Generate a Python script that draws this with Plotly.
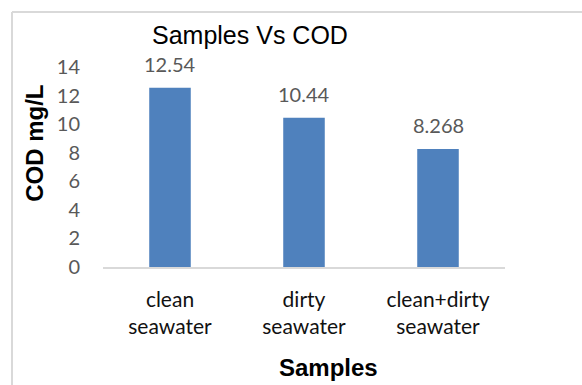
import plotly.graph_objects as go

# Chart data
categories = ["clean seawater", "dirty seawater", "clean+dirty seawater"]
cod_values = [12.54, 10.44, 8.268]
value_labels = ["12.54", "10.44", "8.268"]
y_ticks = [0, 2, 4, 6, 8, 10, 12, 14]

tick_text = [c.replace(" ", "<br>") for c in categories]
body_font = "Lato, Open Sans, sans-serif"
head_font = "Liberation Sans, Arial, sans-serif"

fig = go.Figure(
    go.Bar(
        x=categories,
        y=cod_values,
        marker=dict(color="#4F81BD", line=dict(width=0)),
        width=0.31,
    )
)

# Value labels above each bar
for cat, val, lab in zip(categories, cod_values, value_labels):
    fig.add_annotation(
        x=cat, y=val, text=lab, showarrow=False,
        xanchor="center", yanchor="bottom", yshift=10,
        font=dict(family=body_font, size=20, color="#595959"),
    )

# Outer frame of the chart area (left and top edges)
frame = dict(type="line", xref="paper", yref="paper",
             line=dict(color="#d9d9d9", width=2), layer="below")
fig.add_shape(x0=-0.2264, x1=-0.2264, y0=1.275, y1=-0.7, **frame)
fig.add_shape(x0=-0.2264, x1=1.3, y0=1.275, y1=1.275, **frame)

fig.add_annotation(text="Samples Vs COD", xref="paper", yref="paper",
                   x=0.366, y=1.16, xanchor="center", yanchor="middle",
                   showarrow=False,
                   font=dict(family=head_font, size=25, color="#000000"))
fig.add_annotation(text="<b>COD mg/L</b>", xref="paper", yref="paper",
                   x=-0.172, y=0.62, xanchor="center", yanchor="middle",
                   textangle=-90, showarrow=False,
                   font=dict(family=head_font, size=24, color="#000000"))
fig.add_annotation(text="<b>Samples</b>", xref="paper", yref="paper",
                   x=0.56, y=-0.5, xanchor="center", yanchor="middle",
                   showarrow=False,
                   font=dict(family=head_font, size=24, color="#000000"))

fig.update_layout(
    width=582,
    height=385,
    margin=dict(l=103, r=77, t=67, b=118),
    paper_bgcolor="white",
    plot_bgcolor="white",
    showlegend=False,
    xaxis=dict(
        tickmode="array",
        tickvals=categories,
        ticktext=tick_text,
        tickfont=dict(family=body_font, size=21, color="#111111"),
        showline=True,
        linecolor="#d9d9d9",
        linewidth=1.5,
        ticks="",
        ticklabelstandoff=13,
        showgrid=False,
        fixedrange=True,
    ),
    yaxis=dict(
        range=[0, 14],
        tickvals=y_ticks,
        tickfont=dict(family=body_font, size=20, color="#595959"),
        showgrid=False,
        zeroline=False,
        showline=False,
        ticks="",
        ticklabelstandoff=22,
        fixedrange=True,
    ),
)

fig.write_html("out.html")
